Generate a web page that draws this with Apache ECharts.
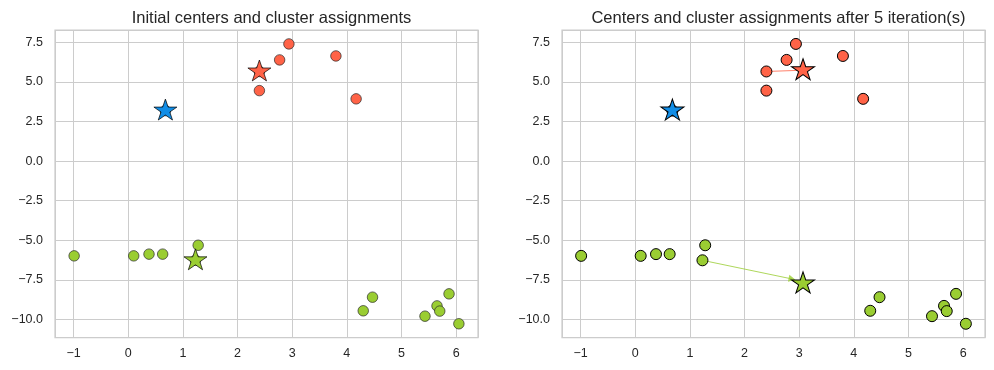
<!DOCTYPE html>
<html><head><meta charset="utf-8">
<script src="https://cdn.jsdelivr.net/npm/echarts@6/dist/echarts.min.js"></script>
<style>html,body{margin:0;padding:0;background:#fff}#c{width:994px;height:370px}</style>
</head><body><div id="c"></div>
<script>
// ---- data ----
const titles = ['Initial centers and cluster assignments', 'Centers and cluster assignments after 5 iteration(s)'];
const clusterColors = ['#ff6347', '#118de6', '#9acd32'];
const redX = [2.94, 2.77, 3.80, 2.40, 4.17, 2.40];
const redY = [7.40, 6.39, 6.64, 4.45, 3.93, 5.66];
const blueX = [0.68];
const blueY = [3.19];
const greenX = [-0.99, 0.10, 0.38, 0.63, 1.28, 1.23, 4.30, 4.47, 5.43, 5.65, 5.70, 5.87, 6.05];
const greenY = [-5.99, -5.99, -5.88, -5.88, -5.32, -6.27, -9.46, -8.60, -9.80, -9.15, -9.48, -8.39, -10.28];
const initCenterX = [2.40, 0.68, 1.23];
const initCenterY = [5.66, 3.19, -6.27];
const finalCenterX = [3.07, 0.68, 3.07];
const finalCenterY = [5.74, 3.19, -7.73];
// arrows drawn on the right panel (start = initial center, tip)
const arrowCluster = [0, 2];
const arrowTipX = [3.07, 2.87];
const arrowTipY = [5.74, -7.45];
const arrowHead = [false, true];
const xTicks = [-1, 0, 1, 2, 3, 4, 5, 6];
const yTicks = [-10, -7.5, -5, -2.5, 0, 2.5, 5, 7.5];
const xMin = -1.34, xMax = 6.40, yMin = -11.16, yMax = 8.28;

// ---- chart ----
const STAR = 'path://M0,-100L22.45,-30.9L95.1,-30.9L36.33,11.8L58.78,80.9L0,38.2L-58.78,80.9L-36.33,11.8L-95.1,-30.9L-22.45,-30.9Z';
const FONT = '"Liberation Sans", Arial, sans-serif';
const TXT = '#262626';
const zip = (xs, ys) => xs.map((x, i) => [x, ys[i]]);
const minus = s => s.replace('-', '\u2212');
const plots = [{left: 55}, {left: 562}];
const grids = plots.map(p => ({left: p.left, top: 30, width: 423, height: 307.7, show: true,
  borderColor: '#cccccc', borderWidth: 1.25, backgroundColor: '#fff', containLabel: false}));
const xStep = xTicks[1] - xTicks[0], yStep = yTicks[1] - yTicks[0];
const xAxes = plots.map((p, i) => ({type: 'value', gridIndex: i, min: xMin, max: xMax,
  minInterval: xStep, maxInterval: xStep, splitNumber: xTicks.length,
  axisLine: {show: false}, axisTick: {show: false},
  splitLine: {show: true, lineStyle: {color: '#cccccc', width: 1}},
  axisLabel: {showMinLabel: false, showMaxLabel: false, margin: 9, color: TXT, fontSize: 12.5, fontFamily: FONT,
    formatter: v => minus(String(v))}}));
const yAxes = plots.map((p, i) => ({type: 'value', gridIndex: i, min: yMin, max: yMax,
  minInterval: yStep, maxInterval: yStep, splitNumber: yTicks.length,
  axisLine: {show: false}, axisTick: {show: false},
  splitLine: {show: true, lineStyle: {color: '#cccccc', width: 1}},
  axisLabel: {showMinLabel: false, showMaxLabel: false, margin: 12, color: TXT, fontSize: 12.5, fontFamily: FONT,
    formatter: v => minus(v.toFixed(1))}}));

const clusters = [zip(redX, redY), zip(blueX, blueY), zip(greenX, greenY)];
const series = [];
[0, 1].forEach(pi => {
  const right = pi === 1;
  clusters.forEach((pts, ci) => {
    series.push({type: 'scatter', xAxisIndex: pi, yAxisIndex: pi, data: pts, symbol: 'circle',
      symbolSize: right ? 11 : 10.5, z: 3, silent: true,
      itemStyle: {color: clusterColors[ci], borderColor: right ? '#000' : '#2a2a2a', borderWidth: right ? 1 : 0.7, opacity: 1}});
  });
  if (right) {
    series.push({type: 'lines', coordinateSystem: 'cartesian2d', xAxisIndex: 1, yAxisIndex: 1, z: 2, silent: true,
      data: arrowCluster.map((c, k) => ({
        coords: [[initCenterX[c], initCenterY[c]], [arrowTipX[k], arrowTipY[k]]],
        symbol: ['none', arrowHead[k] ? 'triangle' : 'none'], symbolSize: [0, 7],
        lineStyle: {color: clusterColors[c], width: 1, opacity: 0.8}})),
      symbol: ['none', 'triangle'], symbolSize: 7});
  }
  const cx = right ? finalCenterX : initCenterX, cy = right ? finalCenterY : initCenterY;
  series.push({type: 'scatter', xAxisIndex: pi, yAxisIndex: pi, z: 5, silent: true, symbol: STAR,
    symbolKeepAspect: true, symbolSize: [23, 22], symbolOffset: [0, -1],
    data: cx.map((x, k) => ({value: [x, cy[k]], itemStyle: {color: clusterColors[k]}})),
    itemStyle: {borderColor: '#000', borderWidth: right ? 1 : 0.7, opacity: 1}});
});

const chart = echarts.init(document.getElementById('c'), null, {renderer: 'canvas'});
chart.setOption({
  animation: false,
  backgroundColor: '#fff',
  title: titles.map((t, i) => ({text: t, left: plots[i].left + 211.5, top: 5, textAlign: 'center',
    textStyle: {color: TXT, fontSize: 16.5, fontWeight: 'normal', fontFamily: FONT}})),
  grid: grids, xAxis: xAxes, yAxis: yAxes, series
});
</script></body></html>
